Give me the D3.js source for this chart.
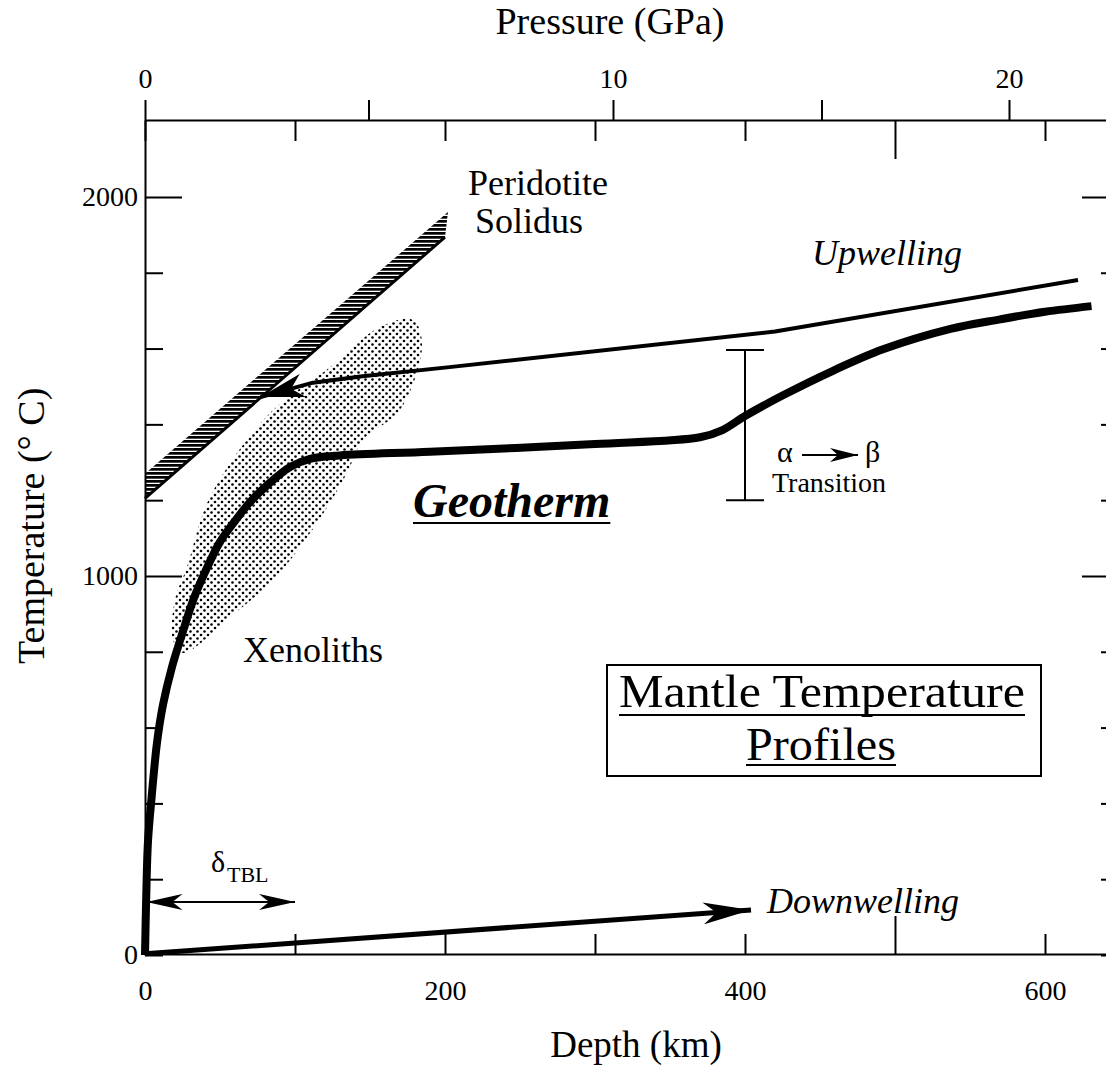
<!DOCTYPE html>
<html>
<head>
<meta charset="utf-8">
<script src="https://cdn.jsdelivr.net/npm/d3@7"></script>
<style>
  body { margin: 0; background: #fff; }
  svg text { font-family: "Liberation Serif", "Times New Roman", serif; fill: #000; }
</style>
</head>
<body>
<svg id="chart" width="1106" height="1068"></svg>
<script>
// all points are [depth km, temperature °C]
const geotherm = [[0,0],[0.8,150],[2,300],[4.5,420],[8,560],[12,660],[18,760],[25,850],[32,935],[40,1010],[50,1090],[60,1145],[70,1195],[83,1245],[97,1288],[110,1309],[130,1318],[190,1328],[300,1348],[370,1366],[385,1385],[400,1422],[425,1476],[459,1542],[492,1598],[537,1652],[570,1677],[600,1697],[631,1712]];
const upwelling = [[622,1781],[420,1645],[203,1551],[145,1527],[112,1510],[77,1472]];
const downwelling = [[0,3],[404,119]];
const solidusLower = [[0,1205],[200,1894]];
const solidusUpper = [[0,1270],[202,1960]];
const xenoliths = [[178.7,1675],[184.7,1609],[170,1438],[145.3,1359],[134.7,1272],[114.7,1140],[85.3,989],[56.7,892],[25.3,797],[18.7,831],[20,937],[28,1024],[43.3,1208],[83.3,1430],[123.3,1551],[156.7,1657]];
const tblArrow = [[1,140],[100,140]];
const transitionBar = [400, 1200, 1596]; // depth, Tmin, Tmax

const depthTicks = [0,100,200,300,400,500,600];
const depthLabels = [0,200,400,600];
const tempTicks = [0,200,400,600,800,1000,1200,1400,1600,1800,2000];
const tempLabels = [0,1000,2000];
const pressureTicks = [0,5,10,15,20];
const pressureDepth = [0,149,312,451,576]; // depth (km) of each pressure tick
const pressureLabels = [0,10,20];

const depthMax = 640.67, tempMax = 2203;
const serif = '"Liberation Serif", "Times New Roman", serif';

const svg = d3.select('#chart');
svg.append('rect').attr('width', 1106).attr('height', 1068).attr('fill', '#fff');

const x = d3.scaleLinear().domain([0, depthMax]).range([145, 1106]);
const y = d3.scaleLinear().domain([0, tempMax]).range([955, 120]);

const defs = svg.append('defs');
const hatch = defs.append('pattern').attr('id', 'hatch').attr('patternUnits', 'userSpaceOnUse')
  .attr('width', 8).attr('height', 4);
hatch.append('rect').attr('width', 8).attr('height', 2.7).attr('fill', '#000');
const dots = defs.append('pattern').attr('id', 'dots').attr('patternUnits', 'userSpaceOnUse')
  .attr('width', 7).attr('height', 7);
dots.append('circle').attr('cx', 1.5).attr('cy', 1.5).attr('r', 1.3).attr('fill', '#000');
dots.append('circle').attr('cx', 5).attr('cy', 5).attr('r', 1.3).attr('fill', '#000');

function arrowMarker(id, L, W, orient) {
  defs.append('marker').attr('id', id)
    .attr('markerUnits', 'userSpaceOnUse')
    .attr('viewBox', `${-L} ${-W} ${L + 2} ${2 * W}`)
    .attr('refX', 0).attr('refY', 0)
    .attr('markerWidth', L + 2).attr('markerHeight', 2 * W)
    .attr('orient', orient || 'auto')
    .append('path')
    .attr('d', `M0,0L${-L},${-W}L${-0.72 * L},0L${-L},${W}Z`)
    .attr('fill', '#000');
}
arrowMarker('arUp', 44, 12);
arrowMarker('arDown', 48, 11);
arrowMarker('arTbl', 36, 8);
arrowMarker('arTblS', 36, 8, 'auto-start-reverse');
arrowMarker('arAB', 28, 7);

// ---- axes ----
function styleAxis(g) {
  g.attr('font-family', serif).attr('font-size', 28);
  g.selectAll('path.domain').attr('stroke-width', 2);
  g.selectAll('.tick line').attr('stroke-width', 2);
  g.selectAll('.tick text').attr('font-family', serif).attr('font-size', 28);
}

const bottom = svg.append('g').attr('transform', 'translate(0,954)')
  .call(d3.axisBottom(x).tickValues(depthTicks).tickSizeInner(-20).tickSizeOuter(0).tickPadding(26)
    .tickFormat(d => depthLabels.includes(d) ? d : ''));
styleAxis(bottom);
bottom.selectAll('.tick').filter(d => d === 500).select('line').attr('y2', -38);

const topDepth = svg.append('g').attr('transform', 'translate(0,120)')
  .call(d3.axisTop(x).tickValues(depthTicks).tickSizeInner(-21).tickSizeOuter(0).tickFormat(''));
styleAxis(topDepth);
topDepth.selectAll('.tick').filter(d => d === 500).select('line').attr('y2', 39);

const p = d3.scaleLinear().domain(pressureTicks).range(pressureDepth.map(x));
const topP = svg.append('g').attr('transform', 'translate(0,120)')
  .call(d3.axisTop(p).tickValues(pressureTicks).tickSizeInner(20).tickSizeOuter(0).tickPadding(12)
    .tickFormat(d => pressureLabels.includes(d) ? d : ''));
styleAxis(topP);
topP.select('path.domain').remove();

const left = svg.append('g').attr('transform', 'translate(145,0)')
  .call(d3.axisLeft(y).tickValues(tempTicks).tickSizeInner(-18).tickSizeOuter(0).tickPadding(7)
    .tickFormat(d => tempLabels.includes(d) ? d : ''));
styleAxis(left);
left.selectAll('.tick').filter(d => d === 1000 || d === 2000).select('line').attr('x2', 37);

const right = svg.append('g').attr('transform', 'translate(1119,0)')
  .call(d3.axisLeft(y).tickValues(tempTicks).tickSizeInner(18).tickSizeOuter(0).tickFormat(''));
styleAxis(right);
right.selectAll('.tick').filter(d => d === 1000 || d === 2000).select('line').attr('x2', -37);

// ---- annotations helper ----
function label(txt, xx, yy, size, opts) {
  opts = opts || {};
  const t = svg.append('text').attr('x', xx).attr('y', yy).attr('font-size', size)
    .attr('font-family', serif)
    .attr('text-anchor', opts.anchor || 'start')
    .attr('font-style', opts.italic ? 'italic' : null)
    .attr('font-weight', opts.bold ? 'bold' : null)
    .text(txt);
  if (opts.width) t.attr('textLength', opts.width).attr('lengthAdjust', 'spacingAndGlyphs');
  if (opts.underline) {
    const b = t.node().getBBox();
    svg.append('line').attr('x1', b.x).attr('x2', b.x + b.width)
      .attr('y1', yy + opts.underline).attr('y2', yy + opts.underline)
      .attr('stroke', '#000').attr('stroke-width', 2);
  }
  return t;
}

// ---- axis titles ----
label('Pressure (GPa)', 610, 34, 38, {anchor: 'middle'});
label('Depth (km)', 636, 1057, 37, {anchor: 'middle'});
svg.append('text').attr('transform', 'translate(44,664) rotate(-90)')
  .attr('font-family', serif).attr('font-size', 38).text('Temperature (° C)');

// ---- marks ----
const line = d3.line().x(d => x(d[0])).y(d => y(d[1]));

svg.append('path')
  .attr('d', d3.line().x(d => x(d[0])).y(d => y(d[1])).curve(d3.curveCatmullRomClosed.alpha(0.5))(xenoliths))
  .attr('fill', 'url(#dots)');

svg.append('path')
  .attr('d', line(solidusLower.concat(solidusUpper.slice().reverse())))
  .attr('fill', 'url(#hatch)');
svg.append('path').attr('d', line(solidusLower))
  .attr('fill', 'none').attr('stroke', '#000').attr('stroke-width', 3);

svg.append('path')
  .attr('d', d3.line().x(d => x(d[0])).y(d => y(d[1])).curve(d3.curveCatmullRom.alpha(0.5))(geotherm))
  .attr('fill', 'none').attr('stroke', '#000').attr('stroke-width', 8)
  .attr('stroke-linejoin', 'round');

svg.append('path').attr('d', line(upwelling))
  .attr('fill', 'none').attr('stroke', '#000').attr('stroke-width', 4)
  .attr('stroke-linejoin', 'round')
  .attr('marker-end', 'url(#arUp)');

svg.append('path').attr('d', line(downwelling))
  .attr('fill', 'none').attr('stroke', '#000').attr('stroke-width', 5)
  .attr('marker-end', 'url(#arDown)');

svg.append('path').attr('d', line(tblArrow))
  .attr('fill', 'none').attr('stroke', '#000').attr('stroke-width', 2)
  .attr('marker-start', 'url(#arTblS)').attr('marker-end', 'url(#arTbl)');

// transition bar
const tb = svg.append('g').attr('stroke', '#000').attr('stroke-width', 2);
tb.append('line').attr('x1', x(transitionBar[0])).attr('x2', x(transitionBar[0]))
  .attr('y1', y(transitionBar[1])).attr('y2', y(transitionBar[2]));
[transitionBar[1], transitionBar[2]].forEach(t => {
  tb.append('line').attr('x1', x(transitionBar[0]) - 19).attr('x2', x(transitionBar[0]) + 19)
    .attr('y1', y(t)).attr('y2', y(t));
});

// ---- labels ----
label('Peridotite', 468, 195, 36);
label('Solidus', 475, 233, 36);
label('Upwelling', 812, 265, 36, {italic: true});
label('Downwelling', 767, 913, 36, {italic: true});
label('Xenoliths', 243, 662, 36);
label('Geotherm', 413, 517, 48, {italic: true, bold: true, underline: 6});
label('α', 777, 462, 30);
label('β', 865, 462, 30);
label('Transition', 772, 492, 28);
svg.append('line').attr('x1', 802).attr('x2', 858).attr('y1', 455).attr('y2', 455)
  .attr('stroke', '#000').attr('stroke-width', 2).attr('marker-end', 'url(#arAB)');
label('δ', 211, 872, 30);
label('TBL', 227, 882, 22);

svg.append('rect').attr('x', 607).attr('y', 665).attr('width', 434).attr('height', 111)
  .attr('fill', 'none').attr('stroke', '#000').attr('stroke-width', 2);
label('Mantle Temperature', 822, 707, 47, {anchor: 'middle', width: 406, underline: 8});
label('Profiles', 821, 760, 47, {anchor: 'middle', width: 150, underline: 5});
</script>
</body>
</html>
